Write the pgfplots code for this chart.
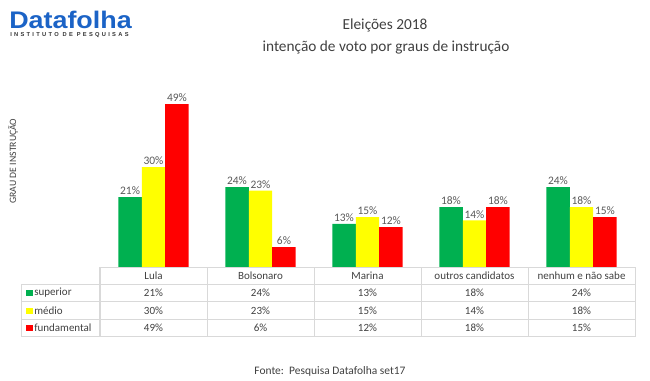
\documentclass[border=0pt]{standalone}
\usepackage{pgfplots}
\pgfplotsset{compat=1.18}
\usepackage{pgfplotstable}
\usepackage{fontspec}
\setmainfont{Carlito}
\newfontfamily\logofont{Liberation Sans}
\definecolor{cgreen}{HTML}{00B050}
\definecolor{cyellow}{HTML}{FFFF00}
\definecolor{cred}{HTML}{FF0000}
\definecolor{txt}{HTML}{404040}
\definecolor{lab}{HTML}{595959}
\definecolor{gridc}{HTML}{D9D9D9}
\definecolor{logo}{HTML}{1B63C6}

\pgfplotstableread{
x sup med fund
0 21 30 49
1 24 23 6
2 13 15 12
3 18 14 18
4 24 18 15
}\data

\begin{document}
\begin{tikzpicture}
\begin{scope}[x=0.75pt,y=-0.75pt,shift={(-100,-267)}]
\useasboundingbox (0,0) rectangle (650,380);
\end{scope}
\begin{axis}[
  at={(0,0)}, anchor=south west,
  scale only axis, width=401.25pt, height=129.7pt,
  xmin=-0.5, xmax=4.5, ymin=0, ymax=52,
  hide axis, clip=false,
  /pgf/number format/assume math mode=true,
  ybar=0pt, bar width=17.6pt,
  nodes near coords={\pgfmathprintnumber{\pgfplotspointmeta}\%},
  every node near coord/.append style={font=\fontsize{8.6}{10}\selectfont, text=lab, inner sep=1.5pt},
]
\addplot[fill=cgreen, draw=none] table[x=x,y=sup]{\data};
\addplot[fill=cyellow, draw=none] table[x=x,y=med]{\data};
\addplot[fill=cred, draw=none] table[x=x,y=fund]{\data};
\end{axis}
\begin{scope}[x=0.75pt,y=-0.75pt,shift={(-100,-267)}]
% logo
\node[anchor=base west, inner sep=0, text=logo, xscale=1.12] at (9,28) {\logofont\bfseries\fontsize{18}{18}\selectfont Datafolha};
\node[anchor=base west, inner sep=0, text=black!80] at (10,36) {\fontspec{Liberation Sans}[LetterSpace=40]\bfseries\fontsize{4.3}{5}\selectfont INSTITUTO DE PESQUISAS};
% title
\node[text=txt] at (385,25) {\fontsize{11.5}{13}\selectfont Eleições 2018};
\node[text=txt] at (386,47) {\fontsize{11.5}{13}\selectfont intenção de voto por graus de instrução};
% y label
\node[text=txt, rotate=90] at (13,161) {\fontsize{7.3}{8}\selectfont GRAU DE INSTRUÇÃO};
% footer
\node[text=txt] at (330,371) {\fontsize{8.6}{10}\selectfont Fonte:\ \ Pesquisa Datafolha set17};
% table lines
\draw[gridc, line width=0.75pt] (100,267) -- (635,267);
\draw[gridc, line width=0.75pt] (22,284.3) -- (635,284.3);
\draw[gridc, line width=0.75pt] (22,301.8) -- (635,301.8);
\draw[gridc, line width=0.75pt] (22,319.3) -- (635,319.3);
\draw[gridc, line width=0.75pt] (22,336.8) -- (635,336.8);
\draw[gridc, line width=0.75pt] (22,284.3) -- (22,336.8);
\foreach \xx in {100,207,314,421,528,635} {\draw[gridc, line width=0.75pt] (\xx,267) -- (\xx,336.8);}
% header
\foreach \c [count=\i from 0] in {Lula,Bolsonaro,Marina,outros candidatos,nenhum e não sabe} {
  \node[text=txt] at (153.5+107*\i,275.8) {\fontsize{8.25}{10}\selectfont \c};
}
% row labels with keys
\fill[cgreen] (26,290) rectangle (33,296);
\fill[cyellow] (26,307.5) rectangle (33,313.5);
\fill[cred] (26,325) rectangle (33,331);
\node[anchor=west, text=txt, inner sep=0] at (34,293) {\fontsize{8.25}{10}\selectfont superior};
\node[anchor=west, text=txt, inner sep=0] at (34,310.5) {\fontsize{8.25}{10}\selectfont médio};
\node[anchor=west, text=txt, inner sep=0] at (34,328) {\fontsize{8.25}{10}\selectfont fundamental};
% values
\foreach \i in {0,...,4} {
  \pgfplotstablegetelem{\i}{sup}\of\data
  \node[text=txt] at (153.5+107*\i,293) {\fontsize{8.25}{10}\selectfont\pgfplotsretval\%};
  \pgfplotstablegetelem{\i}{med}\of\data
  \node[text=txt] at (153.5+107*\i,310.5) {\fontsize{8.25}{10}\selectfont\pgfplotsretval\%};
  \pgfplotstablegetelem{\i}{fund}\of\data
  \node[text=txt] at (153.5+107*\i,328) {\fontsize{8.25}{10}\selectfont\pgfplotsretval\%};
}
\end{scope}
\end{tikzpicture}
\end{document}
